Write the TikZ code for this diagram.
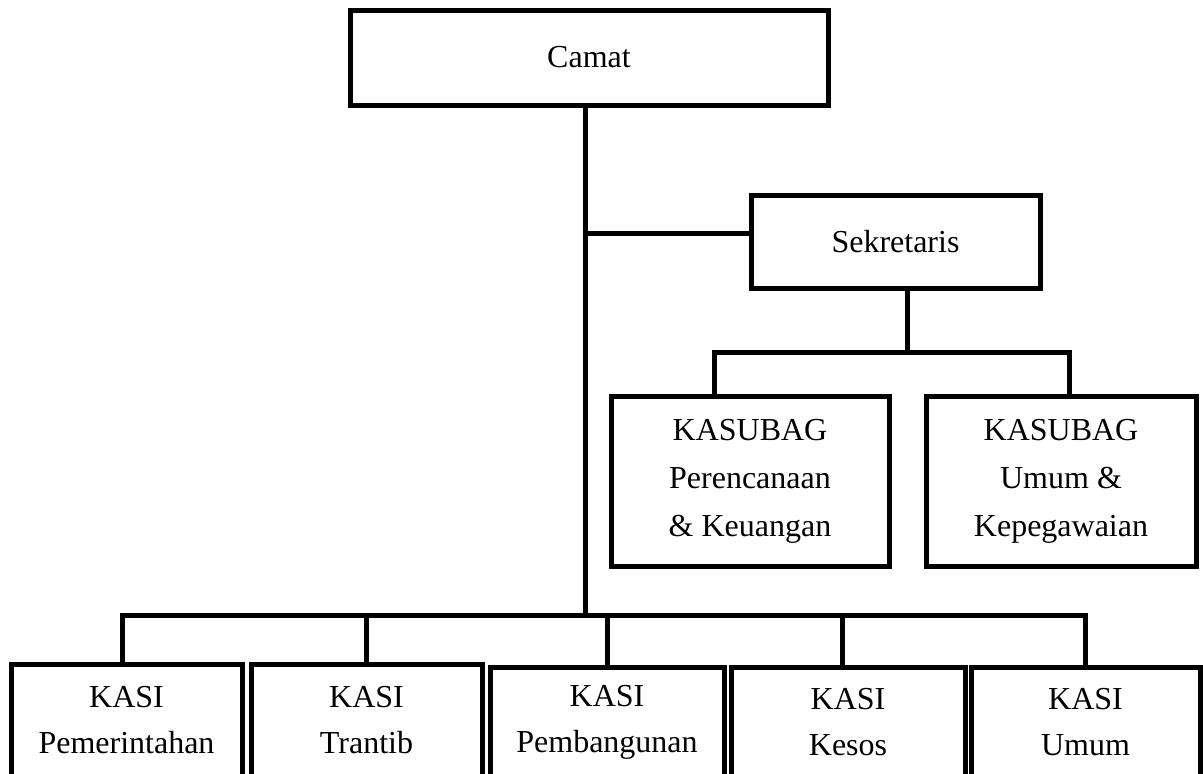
\documentclass[tikz,border=0pt]{standalone}
\usepackage{fontspec}
\setmainfont{Liberation Serif}
\begin{document}
\begin{tikzpicture}[x=1pt,y=-1pt,
  box/.style={draw, line width=5pt, inner sep=0pt, align=center,
    font=\fontsize{32}{48}\selectfont},
  txt/.style={inner sep=0pt, align=center, font=\fontsize{32}{46}\selectfont},
  link/.style={line width=5pt}]
\useasboundingbox (0,0) rectangle (1203,774);
\fill[white] (0,0) rectangle (1203,774);
% top
\node[box, minimum width=478pt, minimum height=95pt] (camat) at (589,57.5) {Camat};
\node[box, minimum width=289pt, minimum height=93pt] (sek) at (895.5,241.5) {Sekretaris};
\node[box, minimum width=278pt, minimum height=170pt] (sub1) at (750,481) {KASUBAG\\Perencanaan\\\& Keuangan};
\node[box, minimum width=270pt, minimum height=170pt] (sub2) at (1061,481) {KASUBAG\\Umum \&\\Kepegawaian};
% KASI boxes (cut off by the page bottom)
\node[box, minimum width=231pt, minimum height=140pt, anchor=north] (k1) at (126.5,662) {};
\node[box, minimum width=231pt, minimum height=140pt, anchor=north] (k2) at (366.5,662) {};
\node[box, minimum width=234pt, minimum height=140pt, anchor=north] (k3) at (607,665) {};
\node[box, minimum width=234pt, minimum height=140pt, anchor=north] (k4) at (848,665) {};
\node[box, minimum width=229pt, minimum height=140pt, anchor=north] (k5) at (1085.5,665) {};
\node[txt] (t1) at (126.5,720) {KASI\\Pemerintahan};
\node[txt] (t2) at (366.5,720) {KASI\\Trantib};
\node[txt] (t3) at (607,722) {KASI\\Pembangunan};
\node[txt] (t4) at (848,722) {KASI\\Kesos};
\node[txt] (t5) at (1085.5,722) {KASI\\Umum};
% connectors
\coordinate (tr) at (585,615);
\coordinate (sj) at (585,233);
\coordinate (sb) at (907,352);
\draw[link] (camat.south -| tr) -- (tr);
\draw[link] (sj) -- (sj -| sek.west);
\draw[link] (sek.south -| sb) -- (sb);
\draw[link] (sub1.north -| 714,0) |- (sb) -| (sub2.north -| 1069,0);
\draw[link] (k1.north -| 122,0) |- (tr) -| (k5.north -| 1085,0);
\draw[link] (k2.north) -- (k2.north |- tr);
\draw[link] (k3.north) -- (k3.north |- tr);
\draw[link] (k4.north -| 842,0) -- (842,615);
\end{tikzpicture}
\end{document}
